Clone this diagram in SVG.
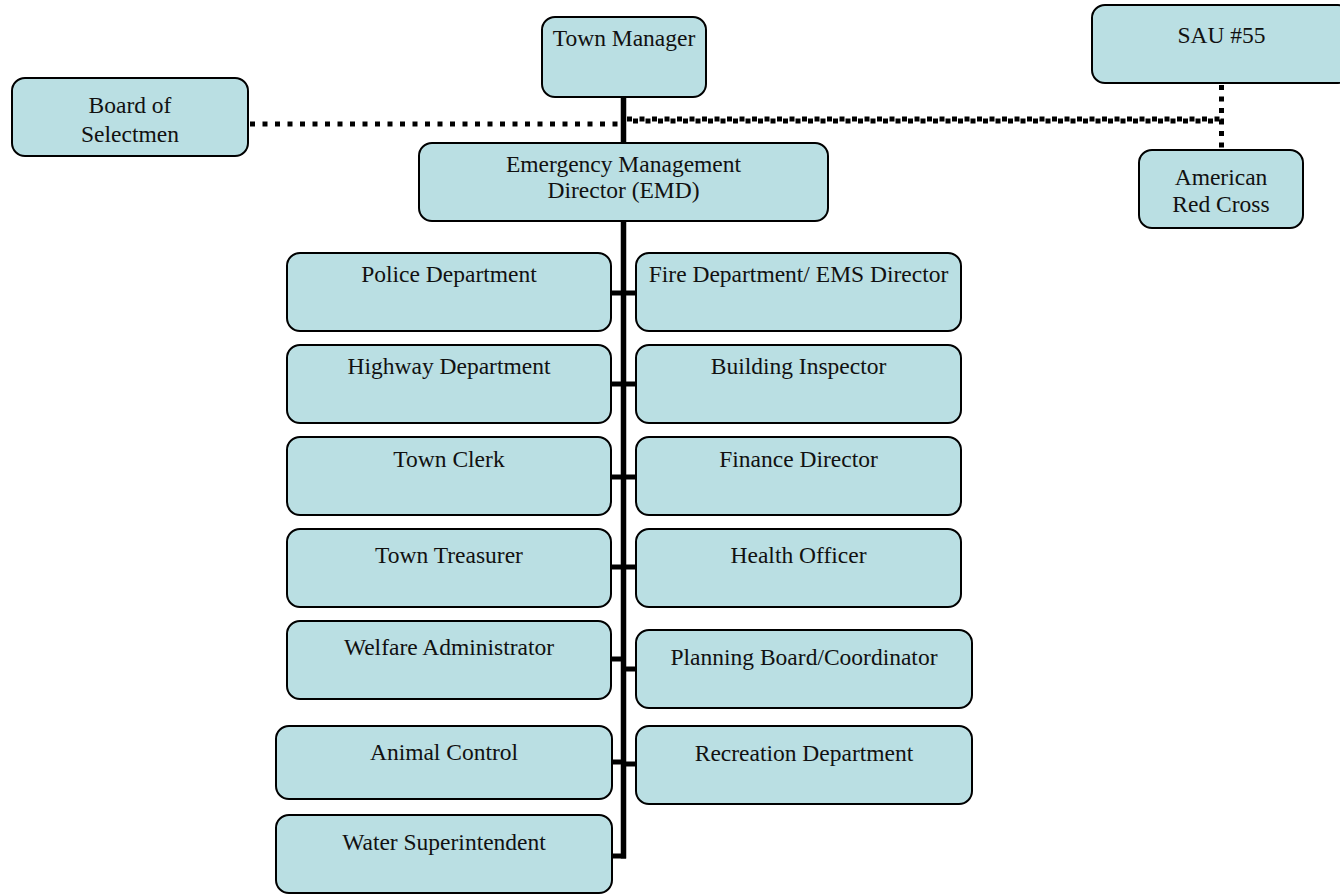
<svg xmlns="http://www.w3.org/2000/svg" width="1340" height="895" viewBox="0 0 1340 895">
<style>
.box{fill:#badfe3;stroke:#000;stroke-width:2}
.t{font-family:"Liberation Serif","Times New Roman",serif;font-size:23.5px;fill:#111;text-anchor:middle}
.solid{stroke:#000;stroke-width:5.5;fill:none}
.stub{stroke:#000;stroke-width:5;fill:none}
.dot{stroke:#000;stroke-width:5;fill:none;stroke-dasharray:5 7.5}
</style>
<rect width="1340" height="895" fill="#fff"/>
<g id="connectors">
<line class="dot" x1="250" y1="124" x2="622" y2="124"/>
<line class="dot" x1="627" y1="119" x2="1224" y2="119"/>
<line class="dot" x1="633" y1="121" x2="1224" y2="121"/>
<line class="dot" x1="1221.5" y1="85" x2="1221.5" y2="150" style="stroke-dasharray:5 6.5"/>
<line class="solid" x1="623.5" y1="97" x2="623.5" y2="858.5"/>
<line class="stub" x1="611" y1="856" x2="626" y2="856"/>
<line class="stub" x1="611" y1="293" x2="636" y2="293"/>
<line class="stub" x1="611" y1="384" x2="636" y2="384"/>
<line class="stub" x1="611" y1="477" x2="636" y2="477"/>
<line class="stub" x1="611" y1="567" x2="636" y2="567"/>
<line class="stub" x1="611" y1="659" x2="624" y2="659"/>
<line class="stub" x1="624" y1="669" x2="636" y2="669"/>
<line class="stub" x1="612" y1="762" x2="624" y2="762"/>
<line class="stub" x1="624" y1="764" x2="636" y2="764"/>
</g>
<g id="town-manager"><rect class="box" x="542" y="17" width="164" height="80" rx="13"/><text class="t" x="624" y="46">Town Manager</text></g>
<g id="sau55"><rect class="box" x="1092" y="5" width="259" height="78" rx="13"/><text class="t" x="1221.5" y="43">SAU #55</text></g>
<g id="board"><rect class="box" x="12" y="78" width="236" height="78" rx="13"/><text class="t" x="130" y="113">Board of</text><text class="t" x="130" y="142">Selectmen</text></g>
<g id="emd"><rect class="box" x="419" y="143" width="409" height="78" rx="13"/><text class="t" x="623.5" y="172">Emergency Management</text><text class="t" x="623.5" y="198">Director (EMD)</text></g>
<g id="red-cross"><rect class="box" x="1139" y="150" width="164" height="78" rx="13"/><text class="t" x="1221" y="185">American</text><text class="t" x="1221" y="212">Red Cross</text></g>
<g id="police"><rect class="box" x="287" y="253" width="324" height="78" rx="13"/><text class="t" x="449" y="282">Police Department</text></g>
<g id="highway"><rect class="box" x="287" y="345" width="324" height="78" rx="13"/><text class="t" x="449" y="374">Highway Department</text></g>
<g id="town-clerk"><rect class="box" x="287" y="437" width="324" height="78" rx="13"/><text class="t" x="449" y="467">Town Clerk</text></g>
<g id="town-treasurer"><rect class="box" x="287" y="529" width="324" height="78" rx="13"/><text class="t" x="449" y="563">Town Treasurer</text></g>
<g id="welfare"><rect class="box" x="287" y="621" width="324" height="78" rx="13"/><text class="t" x="449" y="655">Welfare Administrator</text></g>
<g id="animal-control"><rect class="box" x="276" y="726" width="336" height="73" rx="13"/><text class="t" x="444" y="760">Animal Control</text></g>
<g id="water"><rect class="box" x="276" y="815" width="336" height="78" rx="13"/><text class="t" x="444" y="850">Water Superintendent</text></g>
<g id="fire"><rect class="box" x="636" y="253" width="325" height="78" rx="13"/><text class="t" x="798.5" y="282">Fire Department/ EMS Director</text></g>
<g id="building"><rect class="box" x="636" y="345" width="325" height="78" rx="13"/><text class="t" x="798.5" y="374">Building Inspector</text></g>
<g id="finance"><rect class="box" x="636" y="437" width="325" height="78" rx="13"/><text class="t" x="798.5" y="467">Finance Director</text></g>
<g id="health"><rect class="box" x="636" y="529" width="325" height="78" rx="13"/><text class="t" x="798.5" y="563">Health Officer</text></g>
<g id="planning"><rect class="box" x="636" y="630" width="336" height="78" rx="13"/><text class="t" x="804" y="665">Planning Board/Coordinator</text></g>
<g id="recreation"><rect class="box" x="636" y="726" width="336" height="78" rx="13"/><text class="t" x="804" y="761">Recreation Department</text></g>
</svg>
